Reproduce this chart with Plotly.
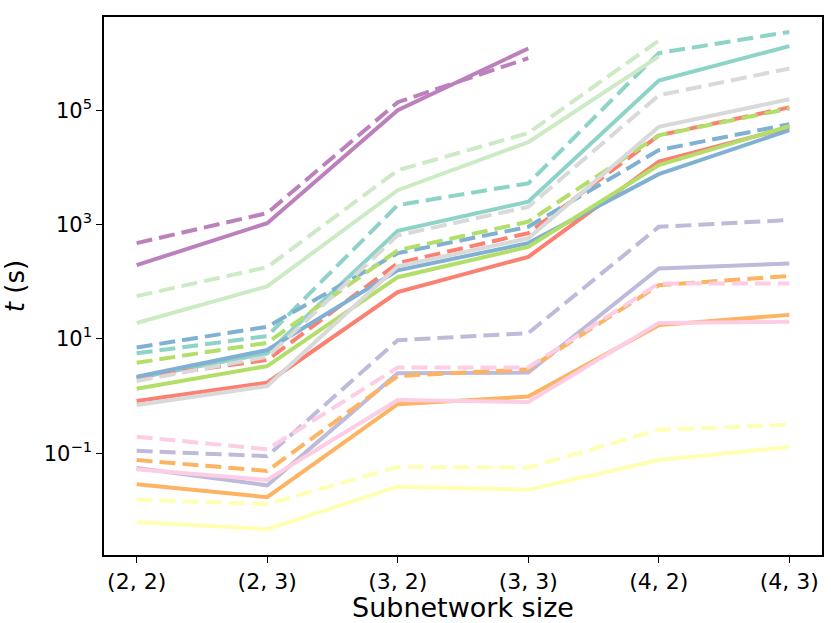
import plotly.graph_objects as go

sizes = ['(2, 2)', '(2, 3)', '(3, 2)', '(3, 3)', '(4, 2)', '(4, 3)']

# Set3 colours, one per method; solid and dashed variant of each
colors = ['#8dd3c7', '#ffffb3', '#bebada', '#fb8072', '#80b1d3', '#fdb462',
          '#b3de69', '#fccde5', '#d9d9d9', '#bc80bd', '#ccebc5']

teal_solid = [2.07, 5.6, 776, 2510, 331000, 1.32e6]
teal_dashed = [5.6, 11.2, 2190, 5250, 1.0e6, 2.34e6]
yellow_solid = [0.0063, 0.0047, 0.026, 0.023, 0.076, 0.129]
yellow_dashed = [0.0155, 0.0129, 0.0575, 0.056, 0.257, 0.316]
lavender_solid = [0.055, 0.0275, 2.5, 2.57, 170, 209]
lavender_dashed = [0.11, 0.089, 9.5, 12.6, 912, 1200]
red_solid = [0.82, 1.71, 66, 272, 12600, 50000]
red_dashed = [2.09, 4.27, 211, 708, 36300, 112000]
blue_solid = [2.17, 6.37, 158, 473, 7590, 44700]
blue_dashed = [7.08, 16.3, 316, 912, 20000, 56900]
orange_solid = [0.0288, 0.017, 0.72, 0.98, 17.4, 26.3]
orange_dashed = [0.076, 0.049, 2.24, 2.95, 87, 126]
green_solid = [1.34, 3.34, 120, 407, 11000, 52500]
green_dashed = [3.82, 8.55, 355, 1120, 36300, 107000]
pink_solid = [0.0525, 0.034, 0.85, 0.79, 19, 20]
pink_dashed = [0.195, 0.117, 3.16, 3.16, 93, 93]
grey_solid = [0.70, 1.5, 186, 575, 51300, 155000]
grey_dashed = [1.83, 4.86, 646, 2040, 182000, 537000]
purple_solid = [195, 1057, 100000, 1.2e6, None, None]
purple_dashed = [473, 1585, 138000, 813000, None, None]
lgreen_solid = [19, 83, 3980, 27500, 871000, None]
lgreen_dashed = [56, 180, 8900, 39800, 1.66e6, None]

series = [
    (teal_solid, teal_dashed),
    (yellow_solid, yellow_dashed),
    (lavender_solid, lavender_dashed),
    (red_solid, red_dashed),
    (blue_solid, blue_dashed),
    (orange_solid, orange_dashed),
    (green_solid, green_dashed),
    (pink_solid, pink_dashed),
    (grey_solid, grey_dashed),
    (purple_solid, purple_dashed),
    (lgreen_solid, lgreen_dashed),
]

fig = go.Figure()
for c, (sol, das) in zip(colors, series):
    fig.add_trace(go.Scatter(x=sizes, y=sol, mode='lines',
                             line=dict(color=c, width=4), connectgaps=False))
    fig.add_trace(go.Scatter(x=sizes, y=das, mode='lines',
                             line=dict(color=c, width=4, dash='16px,7px'),
                             connectgaps=False))

fig.update_layout(
    width=831, height=623,
    margin=dict(l=104, r=9, t=17, b=68),
    plot_bgcolor='white', paper_bgcolor='white',
    showlegend=False,
    font=dict(family='DejaVu Sans', size=20, color='black'),
)
fig.update_xaxes(
    type='category', range=[-0.25, 5.25], automargin=False,
    showline=True, linecolor='black', linewidth=1.5, mirror=True,
    ticks='outside', ticklen=6, tickwidth=1.2, tickcolor='black',
    showgrid=False, zeroline=False,
    tickfont=dict(size=22),
    title=dict(text='Subnetwork size', font=dict(size=27), standoff=2),
)
fig.update_yaxes(
    type='log', range=[-2.78, 6.63], automargin=False,
    tickvals=[0.1, 10, 1000, 100000],
    ticktext=['10<sup>\u22121</sup>', '10<sup>1</sup>', '10<sup>3</sup>', '10<sup>5</sup>'],
    showline=True, linecolor='black', linewidth=1.5, mirror=True,
    ticks='outside', ticklen=6, tickwidth=1.2, tickcolor='black',
    showgrid=False, zeroline=False,
    tickfont=dict(size=21),
    title=dict(text='<i>t</i> (s)', font=dict(size=26), standoff=14),
)

# drop the default 8px body margin so the figure sits at the window corner
fig.write_html("out.html", config={'displayModeBar': False},
               post_script="document.body.style.margin='0';")
